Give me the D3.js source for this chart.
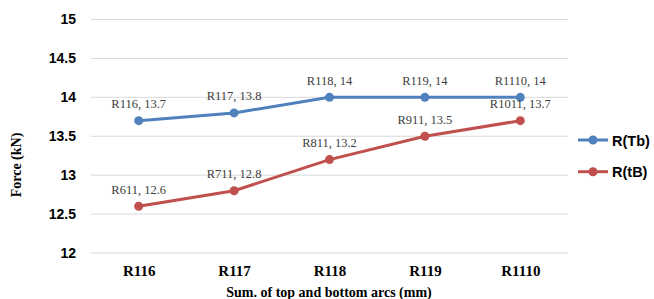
<!DOCTYPE html>
<html>
<head>
<meta charset="utf-8">
<script src="https://cdn.jsdelivr.net/npm/d3@7"></script>
<style>
  body { margin: 0; background: #fff; }
  svg { display: block; }
</style>
</head>
<body>
<svg id="chart"></svg>
<script>
// datos
var categorias = ["R116", "R117", "R118", "R119", "R1110"];
var serieTb = [13.7, 13.8, 14, 14, 14];
var serieTB = [12.6, 12.8, 13.2, 13.5, 13.7];
var etiquetasTb = ["R116", "R117", "R118", "R119", "R1110"];
var etiquetasTB = ["R611", "R711", "R811", "R911", "R1011"];
var ticksY = [12, 12.5, 13, 13.5, 14, 14.5, 15];

var w = 654, h = 299,
	svg = d3.select("#chart").attr("width", w).attr("height", h);

var x = d3.scalePoint().domain(categorias).range([91, 568]).padding(0.5),
	y = d3.scaleLinear().domain([12, 15]).range([253, 19.5]);

var series = [
	{ nombre: "R(Tb)", valores: serieTb, etiquetas: etiquetasTb, color: "#4F81BD" },
	{ nombre: "R(tB)", valores: serieTB, etiquetas: etiquetasTB, color: "#C0504D" }
];

// rejilla
svg.append("g")
	.selectAll("line")
	.data(ticksY)
	.enter()
	.append("line")
	.attr("x1", 91).attr("x2", 568)
	.attr("y1", function(d){ return y(d) }).attr("y2", function(d){ return y(d) })
	.attr("stroke", "#d9d9d9").attr("stroke-width", 1);

// eje y
var ejeY = svg.append("g")
	.attr("transform", "translate(76,0)")
	.call(d3.axisLeft(y).tickValues(ticksY).tickSize(0).tickPadding(0).tickFormat(d3.format("")));
ejeY.select(".domain").remove();
ejeY.selectAll("text")
	.attr("font-family", "'Liberation Sans', Arial, sans-serif")
	.attr("font-weight", "bold")
	.attr("font-size", "14px")
	.attr("fill", "#000");

// eje x
var ejeX = svg.append("g")
	.attr("transform", "translate(0,253)")
	.call(d3.axisBottom(x).tickSize(0).tickPadding(12));
ejeX.select(".domain").remove();
ejeX.selectAll("text")
	.attr("font-family", "'Liberation Serif', 'Times New Roman', serif")
	.attr("font-weight", "bold")
	.attr("font-size", "15px")
	.attr("fill", "#000");

// titulos
svg.append("text")
	.attr("x", 329).attr("y", 297)
	.attr("text-anchor", "middle")
	.attr("font-family", "'Liberation Serif', 'Times New Roman', serif")
	.attr("font-weight", "bold")
	.attr("font-size", "14px")
	.text("Sum. of top and bottom arcs (mm)");

svg.append("text")
	.attr("transform", "translate(21,165) rotate(-90)")
	.attr("text-anchor", "middle")
	.attr("font-family", "'Liberation Serif', 'Times New Roman', serif")
	.attr("font-weight", "bold")
	.attr("font-size", "14px")
	.text("Force (kN)");

// lineas
var linea = d3.line()
	.x(function(d, i){ return x(categorias[i]) })
	.y(function(d){ return y(d) });

series.forEach(function(s){
	var g = svg.append("g");
	g.append("path")
		.datum(s.valores)
		.attr("d", linea)
		.attr("fill", "none")
		.attr("stroke", s.color)
		.attr("stroke-width", 3);
	g.selectAll("circle")
		.data(s.valores)
		.enter()
		.append("circle")
		.attr("cx", function(d, i){ return x(categorias[i]) })
		.attr("cy", function(d){ return y(d) })
		.attr("r", 4.5)
		.attr("fill", s.color);
	g.selectAll("text")
		.data(s.valores)
		.enter()
		.append("text")
		.attr("x", function(d, i){ return x(categorias[i]) })
		.attr("y", function(d){ return y(d) - 12.5 })
		.attr("text-anchor", "middle")
		.attr("font-family", "'Liberation Serif', 'Times New Roman', serif")
		.attr("font-size", "12.5px")
		.attr("fill", "#404040")
		.text(function(d, i){ return s.etiquetas[i] + ", " + d });
});

// leyenda
var leyenda = svg.append("g")
	.selectAll("g")
	.data(series)
	.enter()
	.append("g")
	.attr("transform", function(d, i){ return "translate(578," + (140 + i * 31.7) + ")" });
leyenda.append("line")
	.attr("x1", 0).attr("x2", 30)
	.attr("stroke", function(d){ return d.color })
	.attr("stroke-width", 3);
leyenda.append("circle")
	.attr("cx", 15).attr("r", 4.5)
	.attr("fill", function(d){ return d.color });
leyenda.append("text")
	.attr("x", 34).attr("y", 5.5)
	.attr("font-family", "'Liberation Sans', Arial, sans-serif")
	.attr("font-weight", "bold")
	.attr("font-size", "14.5px")
	.text(function(d){ return d.nombre });
</script>
</body>
</html>
